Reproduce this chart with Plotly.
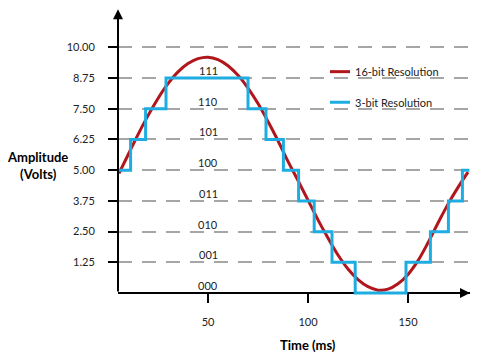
import plotly.graph_objects as go

# ---- data ----
curve_t = [5.5, 10, 15, 20, 25, 30, 35, 40, 45, 50, 55, 60, 65, 70, 75, 80, 85, 90,
           95, 100, 105, 110, 115, 120, 125, 130, 135, 140, 145, 150, 155, 160, 165,
           170, 175, 180]
curve_v = [4.87, 5.62, 6.45, 7.22, 7.92, 8.52, 9.0, 9.34, 9.54, 9.6, 9.5, 9.25, 8.86,
           8.34, 7.71, 6.98, 6.2, 5.36, 4.58, 3.78, 2.98, 2.24, 1.55, 0.98, 0.55, 0.26,
           0.12, 0.16, 0.38, 0.76, 1.32, 2.05, 2.85, 3.62, 4.3, 4.92]

step_t = [5.5, 11.3, 18.8, 29, 70, 79, 87.7, 95.3, 103.1, 112, 123.6, 149, 161.2,
          170.2, 177.2, 180.7]
step_v = [5.0, 6.25, 7.5, 8.75, 7.5, 6.25, 5.0, 3.75, 2.5, 1.25, 0.0, 1.25, 2.5,
          3.75, 5.0, 5.0]

y_ticks = [1.25, 2.5, 3.75, 5.0, 6.25, 7.5, 8.75, 10.0]
y_ticktext = ["1.25", "2.50", "3.75", "5.00", "6.25", "7.50", "8.75", "10.00"]
x_ticks = [50, 100, 150]
x_ticktext = ["50", "100", "150"]

bit_codes = ["000", "001", "010", "011", "100", "101", "110", "111"]
bit_levels = [0.0, 1.25, 2.5, 3.75, 5.0, 6.25, 7.5, 8.75]
bit_label_t = 50

series_names = ["16-bit Resolution", "3-bit Resolution"]
RED = "#B0161B"
BLUE = "#1EADE2"
FONT = "Lato, Carlito, Calibri, sans-serif"
TXT = "#222222"

Y_MIN, Y_MAX = -0.2, 11.6

fig = go.Figure()
fig.add_trace(go.Scatter(x=curve_t, y=curve_v, mode="lines", name=series_names[0],
                         line=dict(color=RED, width=3, shape="spline"),
                         showlegend=False, hoverinfo="skip"))
fig.add_trace(go.Scatter(x=step_t, y=step_v, mode="lines", name=series_names[1],
                         line=dict(color=BLUE, width=3, shape="hv"),
                         showlegend=False, hoverinfo="skip"))

annotations = []
for code, lvl in zip(bit_codes, bit_levels):
    annotations.append(dict(x=bit_label_t, y=lvl, xref="x", yref="y", text=code,
                            showarrow=False, yanchor="middle", yshift=7.5,
                            font=dict(family=FONT, size=11, color=TXT)))

# axis arrows
annotations.append(dict(x=5, y=11.55, ax=5, ay=0, xref="x", yref="y", axref="x", ayref="y",
                        text="", showarrow=True, arrowhead=2, arrowsize=1, arrowwidth=2,
                        arrowcolor="black", standoff=0, startstandoff=0))
annotations.append(dict(x=181, y=0, ax=176, ay=0, xref="x", yref="y", axref="x", ayref="y",
                        text="", showarrow=True, arrowhead=2, arrowsize=1, arrowwidth=2,
                        arrowcolor="black", standoff=0, startstandoff=0))

# axis titles
annotations.append(dict(x=-0.2301, y=0.4573, xref="paper", yref="paper",
                        text="<b>Amplitude</b><br><b>(Volts)</b>", showarrow=False,
                        align="center", xanchor="center", yanchor="middle",
                        font=dict(family=FONT, size=13, color="black")))
annotations.append(dict(x=0.5398, y=-0.1613, xref="paper", yref="paper",
                        text="<b>Time (ms)</b>", showarrow=False,
                        xanchor="center", yanchor="middle",
                        font=dict(family=FONT, size=13, color="black")))

# legend (drawn manually)
legend_y = [0.7805, 0.675]
legend_colors = [RED, BLUE]
shapes = [dict(type="rect", xref="x", yref="y", x0=107, x1=167.5, y0=7.05, y1=9.57,
               fillcolor="white", line=dict(width=0), layer="below")]
for name, ly, col in zip(series_names, legend_y, legend_colors):
    shapes.append(dict(type="line", xref="paper", yref="paper", x0=0.6023, x1=0.6591,
                       y0=ly, y1=ly, line=dict(color=col, width=3)))
    annotations.append(dict(x=0.6676, y=ly, xref="paper", yref="paper", text=name,
                            showarrow=False, xanchor="left", yanchor="middle",
                            font=dict(family=FONT, size=11, color=TXT)))

fig.update_layout(
    width=496, height=349,
    margin=dict(l=110, r=34, t=0, b=59),
    paper_bgcolor="white", plot_bgcolor="white",
    font=dict(family=FONT, size=11, color=TXT),
    showlegend=False,
    annotations=annotations,
    shapes=shapes,
    xaxis=dict(range=[5, 181], anchor="free", position=(0 - Y_MIN) / (Y_MAX - Y_MIN),
               showline=True, linecolor="black", linewidth=2,
               showgrid=False, zeroline=False,
               tickmode="array", tickvals=x_ticks, ticktext=x_ticktext,
               ticks="outside", ticklen=9, tickwidth=2, tickcolor="black",
               ticklabelstandoff=10, layer="below traces",
               tickfont=dict(family=FONT, size=11, color=TXT)),
    yaxis=dict(range=[Y_MIN, Y_MAX], showline=False, zeroline=False,
               tickmode="array", tickvals=y_ticks, ticktext=y_ticktext,
               ticks="outside", ticklen=9, tickwidth=2, tickcolor="black",
               ticklabelstandoff=11,
               showgrid=True, gridcolor="#A6A6A6", gridwidth=2, griddash="14px,10px",
               tickfont=dict(family=FONT, size=11, color=TXT)),
)

fig.write_html("out.html")
